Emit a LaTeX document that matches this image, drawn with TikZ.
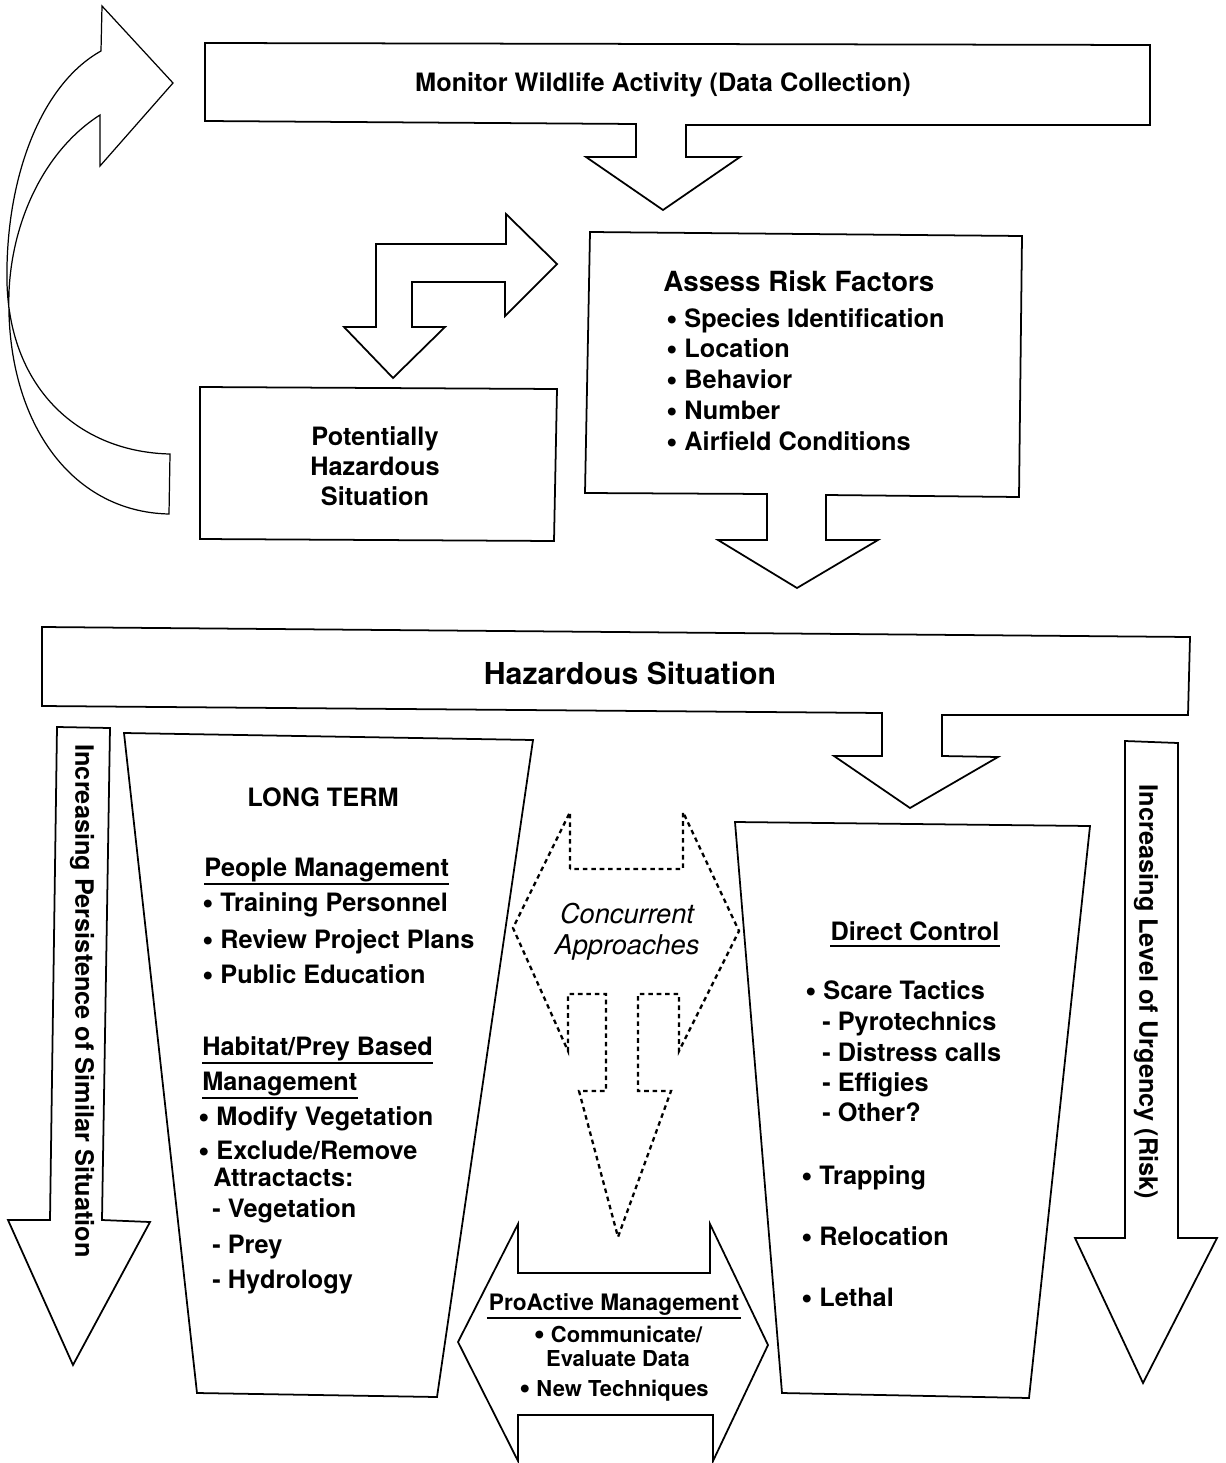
\documentclass[tikz,border=0pt]{standalone}
\usepackage{fontspec}
\setmainfont{TeX Gyre Heros}
\newcommand{\bul}{\raisebox{-1.2pt}{\fontsize{18}{17}\selectfont\textbullet}\ }
\tikzset{
  txt/.style={inner sep=0pt, font=\fontsize{14.4}{17}\selectfont\bfseries},
  ctr/.style={txt, align=center},
  hdr/.style={txt, text depth=#1},
  hdr/.default=4.5pt,
  blk/.style={line width=1pt, line join=miter},
  dots/.style={line width=1.3pt, dash pattern=on 2.6pt off 2.2pt},
  uline/.style={line width=1.2pt}
}

\begin{document}
\begin{tikzpicture}[x=0.02cm, y=-0.02cm]
\useasboundingbox (0,0) rectangle (1225,1463);

% data collection
\draw[blk] (205,43) -- (1150,45) -- (1150,125) -- (686,125) -- (686,157) -- (740,157) -- (663,210) -- (586,157) -- (636,157) -- (636,124) -- (205,121) -- cycle;
\node[txt] (monitor) at (663,85) {Monitor Wildlife Activity (Data Collection)};

% loop back
\draw[line width=0.7pt] (101,51) -- (102,6) -- (173,83) -- (100,166) -- (100,115)
  .. controls (45,150) and (12,220) .. (9,292) .. controls (5,420) and (70,512) .. (169,514)
  -- (170,454) .. controls (80,452) and (10,390) .. (7,283) .. controls (5,180) and (40,85) .. cycle;

% risk factors
\draw[blk] (590,232) -- (1022,236) -- (1019,497) -- (826,495) -- (826,540) -- (878,540) -- (797,588) -- (718,540) -- (767,540) -- (767,494) -- (585,493) -- cycle;
\node[txt, anchor=base west, font=\fontsize{15.8}{19}\selectfont\bfseries] (assess) at (663,291) {Assess Risk Factors};
\node[txt, anchor=base west] (rf1) at (666,327) {\bul Species Identification};
\node[txt, anchor=base west] (rf2) at (666,357) {\bul Location};
\node[txt, anchor=base west] (rf3) at (666,388) {\bul Behavior};
\node[txt, anchor=base west] (rf4) at (666,419) {\bul Number};
\node[txt, anchor=base west] (rf5) at (666,450) {\bul Airfield Conditions};

% two way arrow
\draw[blk] (344,327) -- (376,327) -- (376,244) -- (506,244) -- (506,214) -- (557,264) -- (505,316) -- (505,282) -- (412,282) -- (412,327) -- (445,327) -- (393,378) -- cycle;

\draw[blk] (200,387) -- (557,389) -- (554,541) -- (200,539) -- cycle;
\node[ctr] (potential) at (375,466) {Potentially\\Hazardous\\Situation};

% hazardous situation
\draw[blk] (42,627) -- (1190,637) -- (1188,715) -- (942,715) -- (942,756) -- (998,757) -- (910,808) -- (834,756) -- (882,756) -- (882,713) -- (42,706) -- cycle;
\node[txt, font=\fontsize{17.2}{20}\selectfont\bfseries] (hazard) at (630,673) {Hazardous Situation};

% side arrows
\draw[blk] (57,727) -- (110,728) -- (102,1220) -- (150,1222) -- (73,1365) -- (8,1220) -- (50,1220) -- cycle;
\node[txt, rotate=-90] (persist) at (82,1001) {Increasing Persistence of Similar Situation};
\draw[blk] (1125,741) -- (1178,743) -- (1178,1238) -- (1217,1238) -- (1143,1383) -- (1075,1238) -- (1125,1238) -- cycle;
\node[txt, rotate=-90] (urgency) at (1146,992) {Increasing Level of Urgency (Risk)};

% long term
\draw[blk] (124,733) -- (533,740) -- (437,1397) -- (197,1393) -- cycle;
\node[txt] (longterm) at (323,797) {LONG TERM};
\node[hdr, anchor=base west] (people) at (204,876) {People Management};
\draw[uline] (people.south west) -- (people.south east);
\node[txt, anchor=base west] (lt1) at (202,911) {\bul Training Personnel};
\node[txt, anchor=base west] (lt2) at (202,948) {\bul Review Project Plans};
\node[txt, anchor=base west] (lt3) at (202,983) {\bul Public Education};
\node[hdr, anchor=base west] (habitat) at (202,1055) {Habitat/Prey Based};
\draw[uline] (habitat.south west) -- (habitat.south east);
\node[hdr, anchor=base west] (habmgmt) at (202,1090) {Management};
\draw[uline] (habmgmt.south west) -- (habmgmt.south east);
\node[txt, anchor=base west] (lt4) at (198,1125) {\bul Modify Vegetation};
\node[txt, anchor=west, align=left, font=\fontsize{14.4}{15.6}\selectfont\bfseries] (lt5) at (198,1164) {\bul Exclude/Remove\\\hspace*{8.5pt}Attractacts:};
\node[txt, anchor=base west] (lt7) at (212,1217) {- Vegetation};
\node[txt, anchor=base west] (lt8) at (212,1253) {- Prey};
\node[txt, anchor=base west] (lt9) at (212,1288) {- Hydrology};

% concurrent approaches
\draw[dots] (570,869) -- (570,812) -- (513,928) -- (568,1051) -- (568,994) -- (606,994) -- (606,1091) -- (579,1091) -- (618,1237) -- (671,1091) -- (638,1091) -- (638,994) -- (679,994) -- (679,1051) -- (739,931) -- (683,812) -- (683,869) -- cycle;
\node[ctr, font=\fontsize{15.5}{17.6}\selectfont\itshape] (concur) at (627,932) {Concurrent\\Approaches};

% proactive
\draw[blk] (518,1224) -- (518,1273) -- (710,1273) -- (710,1224) -- (768,1345) -- (713,1461) -- (713,1415) -- (518,1415) -- (518,1461) -- (458,1342) -- cycle;
\node[hdr, anchor=base, font=\fontsize{12.9}{15}\selectfont\bfseries] (proact) at (614,1310) {ProActive Management};
\draw[uline] ([xshift=-1pt]proact.south west) -- ([xshift=1pt]proact.south east);
\node[ctr, font=\fontsize{12.5}{13.6}\selectfont\bfseries] (pa1) at (618,1346) {\bul Communicate/\\Evaluate Data};
\node[txt, font=\fontsize{12.5}{15}\selectfont\bfseries] (pa2) at (614,1391) {\bul New Techniques};

% direct control
\draw[blk] (735,822) -- (1090,826) -- (1029,1398) -- (782,1393) -- cycle;
\node[hdr=3pt, anchor=base] (direct) at (915,940) {Direct Control};
\draw[uline] (direct.south west) -- (direct.south east);
\node[txt, anchor=base west] (dc1) at (805,999) {\bul Scare Tactics};
\node[txt, anchor=base west] (dc2) at (822,1030) {- Pyrotechnics};
\node[txt, anchor=base west] (dc3) at (822,1061) {- Distress calls};
\node[txt, anchor=base west] (dc4) at (822,1091) {- Effigies};
\node[txt, anchor=base west] (dc5) at (822,1121) {- Other?};
\node[txt, anchor=base west] (dc6) at (801,1184) {\bul Trapping};
\node[txt, anchor=base west] (dc7) at (801,1245) {\bul Relocation};
\node[txt, anchor=base west] (dc8) at (801,1306) {\bul Lethal};
\end{tikzpicture}
\end{document}
